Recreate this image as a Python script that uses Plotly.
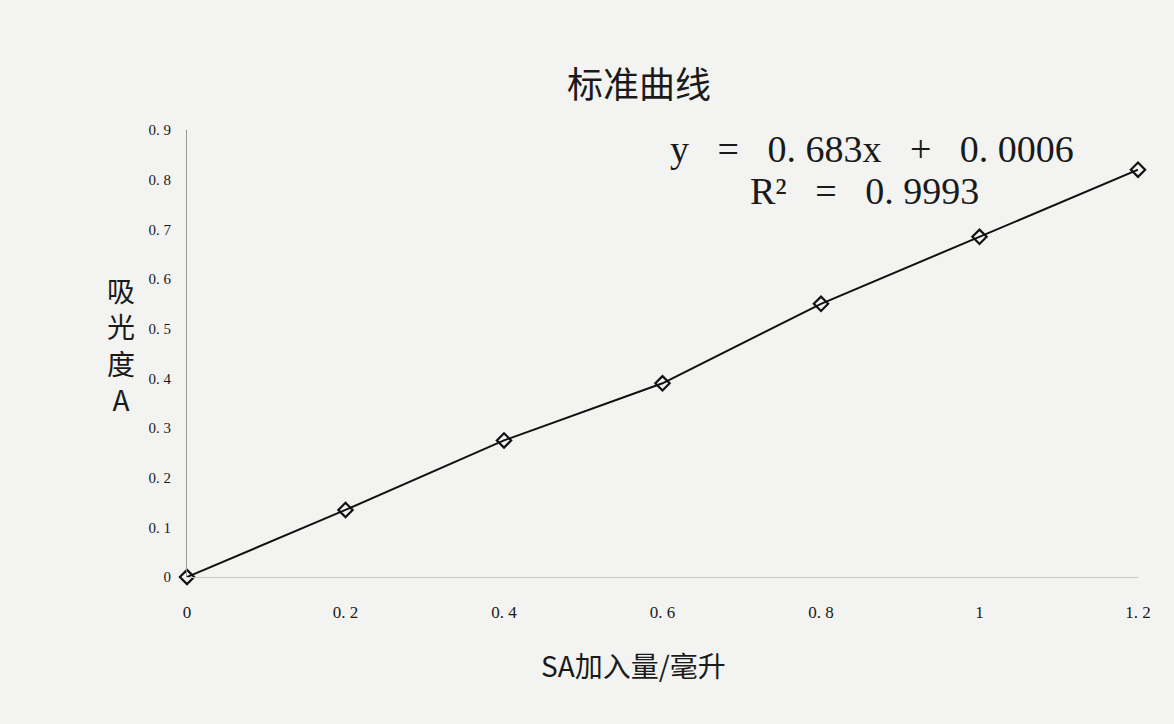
import plotly.graph_objects as go

# Data
sa_volume_ml = [0, 0.2, 0.4, 0.6, 0.8, 1.0, 1.2]
absorbance = [0, 0.135, 0.275, 0.39, 0.55, 0.685, 0.82]

x_tick_vals = [0, 0.2, 0.4, 0.6, 0.8, 1.0, 1.2]
x_tick_text = ["0", "0. 2", "0. 4", "0. 6", "0. 8", "1", "1. 2"]
y_tick_vals = [0, 0.1, 0.2, 0.3, 0.4, 0.5, 0.6, 0.7, 0.8, 0.9]
y_tick_text = ["0", "0. 1", "0. 2", "0. 3", "0. 4", "0. 5", "0. 6", "0. 7", "0. 8", "0. 9"]

title_text = "标准曲线"
equation_text = "y   =   0. 683x   +   0. 0006"
r2_text = "R²   =   0. 9993"
x_title = "SA加入量/毫升"
y_title = "吸<br>光<br>度<br>A"

serif = "Liberation Serif, DejaVu Serif, Noto Sans CJK SC, serif"
cjk = "Noto Sans CJK SC, Liberation Serif, serif"

fig = go.Figure()
fig.add_trace(go.Scatter(
    x=sa_volume_ml, y=absorbance,
    mode="lines+markers",
    line=dict(color="#111111", width=2),
    marker=dict(symbol="diamond-open", size=11, color="#111111", line=dict(width=2.2)),
    cliponaxis=False,
    showlegend=False,
))

fig.update_layout(
    width=1174, height=724,
    margin=dict(l=187, r=36, t=130, b=147),
    paper_bgcolor="#f3f3f1",
    plot_bgcolor="#f3f3f1",
    font=dict(family=serif, color="#1a1a1a"),
    showlegend=False,
    xaxis=dict(
        range=[0, 1.2], tickvals=x_tick_vals, ticktext=x_tick_text,
        showgrid=False, zeroline=False, showline=True, linecolor="#c8c8c8", linewidth=1,
        ticks="", ticklabelstandoff=20,
        tickfont=dict(family=serif, size=17, color="#1a1a1a"),
    ),
    yaxis=dict(
        range=[0, 0.9], tickvals=y_tick_vals, ticktext=y_tick_text,
        showgrid=False, zeroline=False, showline=True, linecolor="#9a9a9a", linewidth=1,
        ticks="", ticklabelstandoff=12,
        tickfont=dict(family=serif, size=15, color="#1a1a1a"),
    ),
    annotations=[
        dict(text=title_text, xref="paper", yref="paper", x=0.475, y=1.0, yshift=76,
             showarrow=False, font=dict(family=cjk, size=36, color="#1a1a1a")),
        dict(text=equation_text, xref="paper", yref="paper", x=0.935, y=1.0, yshift=4,
             xanchor="right", showarrow=False, font=dict(family=serif, size=38, color="#1a1a1a")),
        dict(text=r2_text, xref="paper", yref="paper", x=0.835, y=1.0, yshift=-38,
             xanchor="right", showarrow=False, font=dict(family=serif, size=38, color="#1a1a1a")),
        dict(text=x_title, xref="paper", yref="paper", x=0.47, y=0, yshift=-110,
             showarrow=False, font=dict(family=cjk, size=28, color="#1a1a1a")),
        dict(text=y_title, xref="paper", yref="paper", x=0, xshift=-82, y=0.52,
             showarrow=False, font=dict(family=cjk, size=28, color="#1a1a1a")),
    ],
)

fig.write_html("out.html", config={"displayModeBar": False},
               post_script="document.body.style.margin='0';")
